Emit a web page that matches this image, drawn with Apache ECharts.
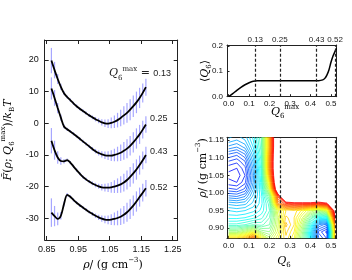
<!DOCTYPE html>
<html><head><meta charset="utf-8">
<script src="https://cdn.jsdelivr.net/npm/echarts@6/dist/echarts.min.js"></script>
<style>html,body{margin:0;padding:0;background:#fff}#c{width:352px;height:280px}</style>
</head><body><div id="c"></div>
<script>
// ---------- Left panel data ----------
const rho = [0.865,0.875,0.885,0.895,0.905,0.915,0.925,0.935,0.945,0.955,0.965,0.975,0.985,0.995,1.005,1.015,1.025,1.035,1.045,1.055,1.065,1.075,1.085,1.095,1.105,1.115,1.125,1.135,1.145,1.155,1.165];
const F013 = [19.8,16.8,14.0,11.5,9.5,8.3,7.3,6.3,5.4,4.6,3.9,3.2,2.5,1.9,1.3,0.8,0.3,0.0,-0.1,0.1,0.5,1.0,1.7,2.5,3.3,4.3,5.4,6.6,8.0,9.6,11.4];
const F025 = [11.0,8.0,4.8,1.8,-1.0,-1.9,-2.6,-3.3,-4.1,-4.9,-5.7,-6.5,-7.3,-8.1,-8.8,-9.4,-9.8,-10.1,-10.2,-10.2,-10.0,-9.7,-9.3,-8.7,-8.0,-7.1,-6.0,-4.8,-3.5,-2.0,-0.4];
const F043 = [-5.5,-8.5,-10.8,-11.9,-12.0,-11.6,-12.4,-13.6,-14.8,-15.9,-16.9,-17.7,-18.4,-19.0,-19.5,-19.9,-20.2,-20.3,-20.3,-20.2,-20.0,-19.7,-19.3,-18.7,-17.9,-16.9,-15.8,-14.6,-13.2,-11.7,-10.0];
const F052 = [-28.2,-29.3,-30.2,-29.2,-25.5,-22.6,-23.2,-24.2,-25.1,-25.9,-26.6,-27.3,-28.0,-28.6,-29.2,-29.7,-30.1,-30.4,-30.5,-30.4,-30.2,-29.9,-29.5,-28.9,-28.1,-27.1,-26.0,-24.7,-23.3,-21.9,-20.5];
const err013 = [4.0,2.6,1.6,1.0,0.6,0.5,0.5,0.5,0.5,0.5,0.5,0.5,0.5,0.6,0.7,0.8,1.0,1.2,1.4,1.7,2.0,2.3,2.6,2.9,3.1,3.3,3.4,3.4,3.2,3.0,2.7];
const err025 = [3.5,2.5,1.6,1.0,0.6,0.5,0.5,0.5,0.5,0.5,0.5,0.5,0.5,0.6,0.7,0.8,1.0,1.2,1.4,1.7,2.0,2.3,2.6,2.8,3.0,3.1,3.2,3.2,3.0,2.8,2.6];
const err043 = [4.0,3.0,2.0,1.2,0.7,0.5,0.5,0.5,0.5,0.5,0.5,0.5,0.5,0.6,0.7,0.8,1.0,1.2,1.4,1.7,2.0,2.3,2.6,2.8,3.0,3.1,3.2,3.2,3.0,2.8,2.6];
const err052 = [4.5,3.2,2.0,1.2,0.8,0.6,0.5,0.5,0.5,0.5,0.5,0.5,0.5,0.6,0.7,0.8,1.0,1.2,1.4,1.7,2.0,2.3,2.6,2.8,3.0,3.1,3.2,3.2,3.0,2.8,2.6];
const curveNames = ['0.13','0.25','0.43','0.52'];
const xTicksL = [0.85,0.95,1.05,1.15,1.25];
const yTicksL = [-30,-20,-10,0,10,20];

// ---------- Top-right panel data ----------
const qmaxLines = [0.13,0.25,0.43,0.52];
const qmax = [0,0.02,0.04,0.06,0.08,0.10,0.12,0.14,0.20,0.30,0.40,0.44,0.46,0.47,0.48,0.49,0.50,0.51,0.52,0.527];
const q6Mean = [0,0.012,0.025,0.037,0.047,0.055,0.061,0.063,0.063,0.063,0.063,0.063,0.066,0.072,0.085,0.105,0.135,0.16,0.178,0.19];
const xTicksR = [0,0.1,0.2,0.3,0.4,0.5];
const yTicksTR = [0,0.1,0.2];

// ---------- Bottom-right contour data ----------
const gridQ = [0,0.04,0.08,0.12,0.16,0.20,0.24,0.28,0.32,0.36,0.40,0.44,0.48,0.52];
const gridRho = [0.87,0.89,0.91,0.93,0.95,0.97,0.99,1.01,1.03,1.05,1.07,1.09,1.11,1.13,1.15,1.17];
const freeEnergy = [
 [9.0,9.0,9.5,11.0,8.5,7.0,8.0,8.8,8.0,6.0,3.8,1.5,0.8,9.0],
 [6.5,6.5,7.0,7.8,6.5,6.2,7.5,9.0,8.3,6.3,3.8,1.0,0.4,9.0],
 [4.8,4.8,5.0,5.3,5.2,5.6,7.3,9.3,8.6,6.8,4.5,2.0,1.5,10.0],
 [4.0,4.0,4.1,4.3,4.6,5.3,7.2,9.0,8.6,7.4,5.6,4.0,4.2,12.0],
 [3.5,3.4,3.5,3.7,4.2,5.0,7.6,8.6,8.8,8.2,7.2,6.5,7.5,13.0],
 [2.8,2.7,2.8,3.3,4.0,5.2,10.0,11.5,11.8,11.8,11.8,11.5,12.0,15],
 [1.8,1.7,2.0,3.0,4.0,6.0,11.0,15,15,15,15,15,15,15],
 [0.9,0.8,1.2,2.6,4.2,7.5,14,15,15,15,15,15,15,15],
 [0.3,0.2,0.7,2.3,4.3,8.5,15,15,15,15,15,15,15,15],
 [0.1,0.0,0.5,2.2,4.4,9.5,15,15,15,15,15,15,15,15],
 [0.3,0.2,0.7,2.4,4.6,10,15,15,15,15,15,15,15,15],
 [0.8,0.6,1.1,2.7,4.8,10,15,15,15,15,15,15,15,15],
 [1.4,1.2,1.7,3.1,5.0,9.8,15,15,15,15,15,15,15,15],
 [2.2,2.0,2.4,3.5,5.2,9.5,15,15,15,15,15,15,15,15],
 [2.8,2.6,2.9,3.8,5.3,9.5,15,15,15,15,15,15,15,15],
 [3.2,3.0,3.2,4.0,5.5,9.5,15,15,15,15,15,15,15,15]
];
const yTicksBR = [0.90,0.95,1.00,1.05,1.10,1.15];
const levelMin = 0.2, levelMax = 12.2, levelStep = 0.3;

// ---------- helpers ----------
function jet(v){
  const t = 0.12 + 0.76*Math.max(0,Math.min(1,v/levelMax));
  const c = x => Math.round(255*Math.max(0,Math.min(1,x)));
  return 'rgb('+c(1.5-Math.abs(4*t-3))+','+c(1.5-Math.abs(4*t-2))+','+c(1.5-Math.abs(4*t-1))+')';
}
function contourSegments(){
  const segs=[]; const levels=[];
  for(let L=levelMin; L<=levelMax+1e-9; L+=levelStep) levels.push(L);
  for(let r=0;r<gridRho.length-1;r++) for(let c=0;c<gridQ.length-1;c++){
    const x0=gridQ[c],x1=gridQ[c+1],y0=gridRho[r],y1=gridRho[r+1];
    const a=freeEnergy[r][c], b=freeEnergy[r][c+1], cc=freeEnergy[r+1][c+1], d=freeEnergy[r+1][c];
    for(const L of levels){
      const p=[];
      if((a<L)!==(b<L)) p.push([x0+(L-a)/(b-a)*(x1-x0),y0]);
      if((b<L)!==(cc<L)) p.push([x1,y0+(L-b)/(cc-b)*(y1-y0)]);
      if((cc<L)!==(d<L)) p.push([x1+(L-cc)/(d-cc)*(x0-x1),y1]);
      if((d<L)!==(a<L)) p.push([x0,y1+(L-d)/(a-d)*(y0-y1)]);
      if(p.length===2) segs.push([p[0][0],p[0][1],p[1][0],p[1][1],L]);
      else if(p.length===4){
        const m=(a+b+cc+d)/4;
        if((m<L)===(a<L)){segs.push([p[0][0],p[0][1],p[1][0],p[1][1],L]);segs.push([p[2][0],p[2][1],p[3][0],p[3][1],L]);}
        else {segs.push([p[3][0],p[3][1],p[0][0],p[0][1],L]);segs.push([p[1][0],p[1][1],p[2][0],p[2][1],L]);}
      }
    }
  }
  return segs;
}

const SANS = 'Liberation Sans';
const SERIF = 'DejaVu Serif';
const mathRich = {
  it:{fontFamily:SERIF,fontStyle:'italic',fontSize:11,color:'#222',lineHeight:16},
  n:{fontFamily:SERIF,fontSize:11,color:'#222',lineHeight:16},
  sub:{fontFamily:SERIF,fontSize:7,color:'#222',verticalAlign:'bottom',lineHeight:9},
  sup:{fontFamily:SERIF,fontSize:7,color:'#222',verticalAlign:'top',lineHeight:9},
  num:{fontFamily:SANS,fontSize:9,color:'#222',lineHeight:16}
};

const chart = echarts.init(document.getElementById('c'), null, {renderer:'canvas'});
const seriesF = [F013,F025,F043,F052];
const seriesE = [err013,err025,err043,err052];
const labelOffsets = [[21,-14],[0,-6.5],[0,-3],[0,-1]];
const series = [];
seriesF.forEach((F,i)=>{
  series.push({
    type:'custom', xAxisIndex:0, yAxisIndex:0, z:2, silent:true,
    data: rho.map((r,k)=>[r,F[k],seriesE[i][k]]),
    encode:{x:0,y:1},
    renderItem(params, api){
      const x=api.value(0), y=api.value(1), e=api.value(2);
      const p1=api.coord([x,y-e]), p2=api.coord([x,y+e]);
      return {type:'line', shape:{x1:p1[0],y1:p1[1],x2:p2[0],y2:p2[1]}, style:{stroke:'rgba(130,130,255,0.7)',lineWidth:1.2}};
    }
  });
});
seriesF.forEach((F,i)=>{
  series.push({
    type:'line', xAxisIndex:0, yAxisIndex:0, z:3, smooth:0.3, symbol:'none',
    data: rho.map((r,k)=>[r,F[k]]),
    lineStyle:{color:'#000',width:1.8},
    endLabel:{show:true, offset:labelOffsets[i], distance:4,
      formatter: i===0 ? '{it|Q}{sub|6}{sup|max}{n| = }{num|'+curveNames[i]+'}' : '{num|'+curveNames[i]+'}',
      align: i===0 ? 'right' : 'left',
      rich: mathRich}
  });
});

series.push({
  type:'line', xAxisIndex:2, yAxisIndex:2, symbol:'none', smooth:0.3, z:3,
  data: qmax.map((q,k)=>[q,q6Mean[k]]),
  lineStyle:{color:'#000',width:1.5},
  markLine:{silent:true, symbol:'none', animation:false,
    lineStyle:{color:'#222',type:[3,2],width:1.2},
    label:{show:true, position:'end', distance:1, fontFamily:SANS, fontSize:8, color:'#222', formatter:p=>p.value.toFixed(2)},
    data: qmaxLines.map(v=>({xAxis:v}))}
});
series.push({
  type:'custom', xAxisIndex:3, yAxisIndex:3, z:2, silent:true, clip:true,
  data: contourSegments(), encode:{x:[0,2],y:[1,3]},
  renderItem(params, api){
    const p1=api.coord([api.value(0),api.value(1)]), p2=api.coord([api.value(2),api.value(3)]);
    return {type:'line', shape:{x1:p1[0],y1:p1[1],x2:p2[0],y2:p2[1]}, style:{stroke:jet(api.value(4)),lineWidth:0.8}};
  }
});
series.push({
  type:'line', xAxisIndex:3, yAxisIndex:3, z:5, data:[], symbol:'none',
  markLine:{silent:true, symbol:'none', animation:false,
    lineStyle:{color:'#222',type:[3,2],width:1.2},
    label:{show:false},
    data: qmaxLines.map(v=>({xAxis:v}))}
});

const tickLab = (vals, fmt, size, margin) => ({show:true, customValues:vals, formatter:fmt, fontFamily:SANS, fontSize:size, color:'#111', margin:margin});
const axisBase = {type:'value', splitLine:{show:false}, axisLine:{show:true, onZero:false, lineStyle:{color:'#222',width:1}}};

const option = {
  animation:false,
  backgroundColor:'#fff',
  grid:[
    {left:44.7, top:40, width:133, height:200},
    {left:227, top:45, width:109.7, height:51.7},
    {left:227, top:137.3, width:109.7, height:101}
  ],
  xAxis:[
    Object.assign({}, axisBase, {gridIndex:0, min:0.8437, max:1.266, position:'bottom',
      axisTick:{inside:true, length:4, customValues:xTicksL, lineStyle:{color:'#222'}},
      axisLabel:tickLab(xTicksL, v=>v.toFixed(2), 9, 5)}),
    Object.assign({}, axisBase, {gridIndex:0, min:0.8437, max:1.266, position:'top',
      axisTick:{inside:true, length:4, customValues:xTicksL, lineStyle:{color:'#222'}},
      axisLabel:{show:false}}),
    Object.assign({}, axisBase, {gridIndex:1, min:-0.008, max:0.528, position:'bottom',
      axisTick:{inside:true, length:2.5, customValues:xTicksR, lineStyle:{color:'#222'}},
      axisLabel:tickLab(xTicksR, v=>v.toFixed(1), 8, 3)}),
    Object.assign({}, axisBase, {gridIndex:2, min:-0.008, max:0.528, position:'bottom',
      axisTick:{inside:true, length:2.5, customValues:xTicksR, lineStyle:{color:'#222'}},
      axisLabel:tickLab(xTicksR, v=>v.toFixed(1), 8, 3)}),
    Object.assign({}, axisBase, {gridIndex:1, min:-0.008, max:0.528, position:'top',
      axisTick:{show:false}, axisLabel:{show:false}}),
    Object.assign({}, axisBase, {gridIndex:2, min:-0.008, max:0.528, position:'top',
      axisTick:{show:false}, axisLabel:{show:false}})
  ],
  yAxis:[
    Object.assign({}, axisBase, {gridIndex:0, min:-36.85, max:26.3, position:'left',
      axisTick:{inside:true, length:4, customValues:yTicksL, lineStyle:{color:'#222'}},
      axisLabel:tickLab(yTicksL, v=>String(v), 9, 6)}),
    Object.assign({}, axisBase, {gridIndex:0, min:-36.85, max:26.3, position:'right',
      axisTick:{inside:true, length:4, customValues:yTicksL, lineStyle:{color:'#222'}},
      axisLabel:{show:false}}),
    Object.assign({}, axisBase, {gridIndex:1, min:0, max:0.203, position:'left',
      axisTick:{inside:true, length:2.5, customValues:yTicksTR, lineStyle:{color:'#222'}},
      axisLabel:tickLab(yTicksTR, v=>v.toFixed(1), 8, 4)}),
    Object.assign({}, axisBase, {gridIndex:2, min:0.8716, max:1.1577, position:'left',
      axisTick:{inside:true, length:2.5, customValues:yTicksBR, lineStyle:{color:'#222'}},
      axisLabel:tickLab(yTicksBR, v=>v.toFixed(2), 8, 3)}),
    Object.assign({}, axisBase, {gridIndex:1, min:0, max:0.203, position:'right',
      axisTick:{show:false}, axisLabel:{show:false}}),
    Object.assign({}, axisBase, {gridIndex:2, min:0.8716, max:1.1577, position:'right',
      axisTick:{show:false}, axisLabel:{show:false}})
  ],
  graphic:[
    {type:'text', x:8, y:140, rotation:Math.PI/2, style:{text:'{it|F̃}{n|(}{it|ρ}{n|; }{it|Q}{sub|6}{sup|max}{n|)/}{it|k}{sub|B}{it|T}', rich:mathRich, align:'center', verticalAlign:'middle'}},
    {type:'text', x:113, y:265, style:{text:'{it|ρ}{n|/ (g cm}{sup|−3}{n|)}', rich:mathRich, align:'center', verticalAlign:'middle'}},
    {type:'text', x:205, y:71, rotation:Math.PI/2, style:{text:'{n|⟨}{it|Q}{sub|6}{n|⟩}', rich:mathRich, align:'center', verticalAlign:'middle'}},
    {type:'text', x:285, y:112, style:{text:'{it|Q}{sub|6}{sup|max}', rich:mathRich, align:'center', verticalAlign:'middle'}},
    {type:'text', x:203, y:168, rotation:Math.PI/2, style:{text:'{it|ρ}{n|/ (g cm}{sup|−3}{n|)}', rich:mathRich, align:'center', verticalAlign:'middle'}},
    {type:'text', x:284, y:261, style:{text:'{it|Q}{sub|6}', rich:mathRich, align:'center', verticalAlign:'middle'}}
  ],
  series: series
};
chart.setOption(option);
</script>
</body></html>
